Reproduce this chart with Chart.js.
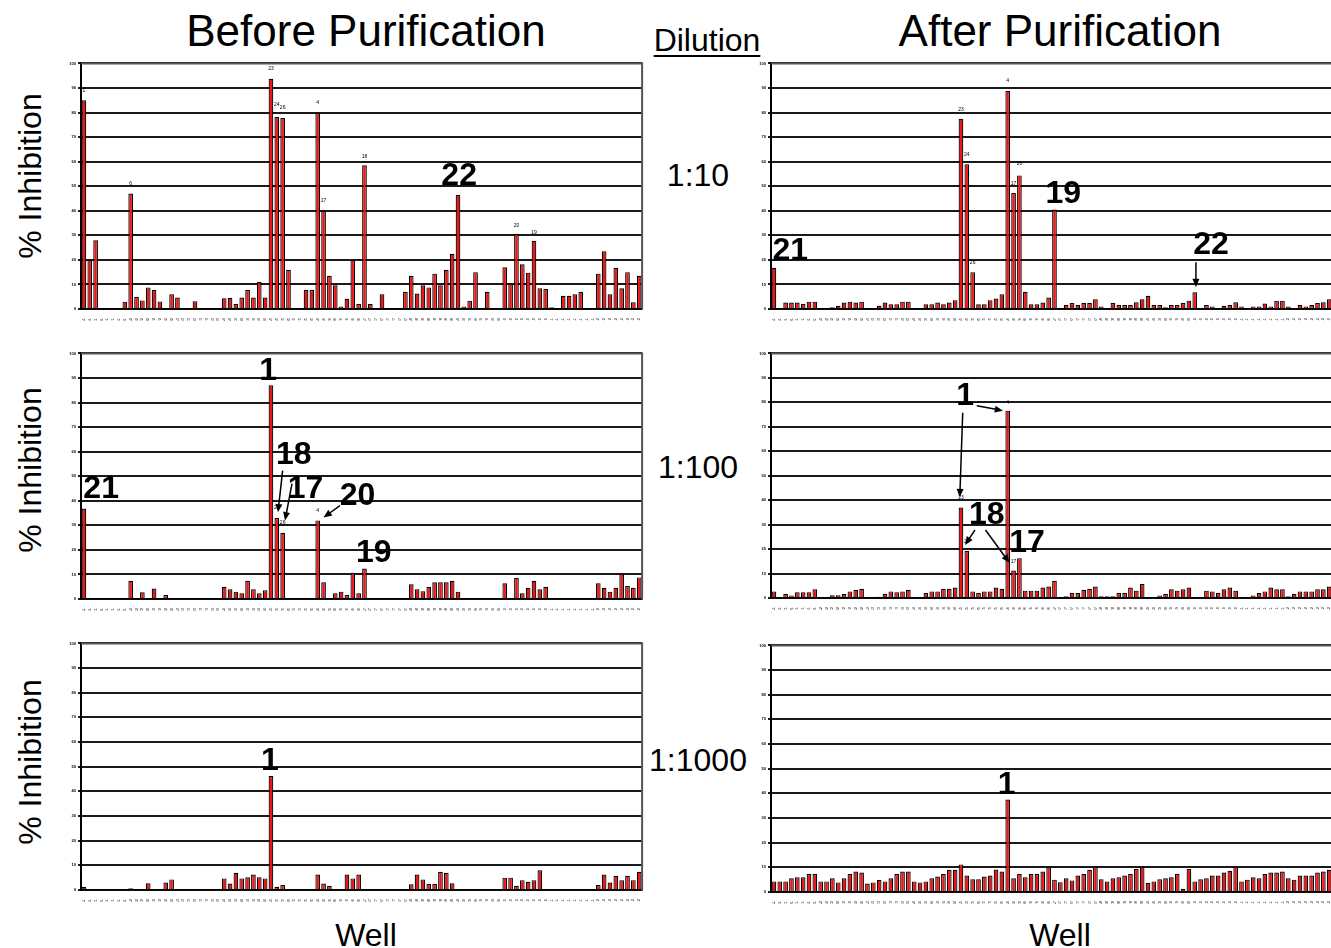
<!DOCTYPE html>
<html>
<head>
<meta charset="utf-8">
<script src="https://cdn.jsdelivr.net/npm/chart.js@4.4.1/dist/chart.umd.min.js"></script>
<style>
  body { margin: 0; width: 1331px; height: 948px; overflow: hidden; background: #fff; position: relative;
         font-family: "Liberation Sans", Arial, sans-serif; }
  canvas { position: absolute; }
  .txt { position: absolute; white-space: nowrap; color: #000; transform: translate(-50%, -50%); line-height: 1; }
  .rot { transform: translate(-50%, -50%) rotate(-90deg); }
</style>
</head>
<body>

<div class="txt" style="left:366px;top:31px;font-size:44px">Before Purification</div>
<div class="txt" style="left:1060px;top:31px;font-size:44px">After Purification</div>
<div class="txt" style="left:707px;top:40px;font-size:32px;text-decoration:underline;text-underline-offset:4px;text-decoration-thickness:2px">Dilution</div>
<div class="txt" style="left:698px;top:175px;font-size:32px">1:10</div>
<div class="txt" style="left:698px;top:467px;font-size:32px">1:100</div>
<div class="txt" style="left:698px;top:760px;font-size:32px">1:1000</div>
<div class="txt rot" style="left:30px;top:176px;font-size:32px">% Inhibition</div>
<div class="txt rot" style="left:30px;top:470px;font-size:32px">% Inhibition</div>
<div class="txt rot" style="left:30px;top:762px;font-size:32px">% Inhibition</div>
<div class="txt" style="left:366px;top:935px;font-size:32px">Well</div>
<div class="txt" style="left:1060px;top:935px;font-size:32px">Well</div>

<canvas id="c1" width="578" height="262" style="left:67px;top:59px"></canvas>
<canvas id="c2" width="578" height="262" style="left:757px;top:59px"></canvas>
<canvas id="c3" width="578" height="262" style="left:67px;top:349px"></canvas>
<canvas id="c4" width="578" height="261" style="left:757px;top:349px"></canvas>
<canvas id="c5" width="578" height="263" style="left:67px;top:639px"></canvas>
<canvas id="c6" width="578" height="263" style="left:757px;top:641px"></canvas>

<script>
// 96-well plate, wells read down each column
const plateRows = ["A", "B", "C", "D", "E", "F", "G", "H"];
const plateCols = [1, 2, 3, 4, 5, 6, 7, 8, 9, 10, 11, 12];
const wells = [];
plateCols.forEach(c => plateRows.forEach(r => wells.push(r + c)));

const yTicks = [0, 10, 20, 30, 40, 50, 60, 70, 80, 90, 100];

// % inhibition per well, before purification
const before10 = [85, 20, 28, 0, 0, 0, 0, 3, 47, 5, 3.5, 8.8, 7.7, 3.1, 0, 6,
  4.7, 0, 0, 3.2, 0, 0, 0, 0, 4.4, 4.6, 2, 4.7, 7.7, 4.7, 11, 4.7,
  93.7, 78.2, 77.8, 16, 0, 0, 7.7, 7.7, 79.8, 40, 13.5, 9.7, 1, 4.2, 20, 2,
  58.5, 2, 0, 6, 0, 0, 0, 7, 13.5, 6.3, 9.7, 8.8, 14.4, 9.7, 16, 22.5,
  46.4, 1, 3.4, 15, 0, 7, 0, 0, 17, 10.4, 30.6, 18.2, 14.8, 27.8, 8.4, 8.1,
  0.7, 0, 5.4, 5.4, 6, 7, 0, 0, 14.4, 23.5, 6, 16.8, 8.4, 15, 2.7, 13.5];
const before100 = [36.8, 0, 0, 0, 0, 0, 0, 0, 7.4, 0, 2.7, 0, 4.3, 0, 1.6, 0,
  0, 0, 0, 0, 0, 0, 0, 0, 5, 4, 3, 2.3, 7.4, 4, 2.3, 3.6,
  87, 33, 27, 0, 0, 0, 0, 0, 32, 6.8, 0, 2.3, 3, 1.6, 10.7, 2.3,
  12.4, 0, 0, 0, 0, 0, 0, 0, 6, 4, 3.2, 5, 6.8, 6.8, 6.8, 7.4,
  3, 0, 0, 0, 0, 0, 0, 0, 6.4, 0, 8.6, 2.3, 4.6, 7.4, 4, 5,
  0, 0, 0, 0, 0, 0, 0, 0, 6.4, 4.6, 3, 4.6, 10.4, 5.3, 4.6, 8.8];
const before1000 = [1.3, 0, 0, 0, 0, 0, 0, 0, 0.7, 0, 0, 2.7, 0, 0, 3, 4.3,
  0, 0, 0, 0, 0, 0, 0, 0, 4.7, 2.6, 7, 4.7, 5.2, 6.3, 5.2, 4.7,
  46.2, 1.3, 2, 0, 0, 0, 0, 0, 6.3, 2.6, 1.7, 0, 0, 6.3, 4.7, 6.3,
  0, 0, 0, 0, 0, 0, 0, 0, 2.3, 6.3, 4.3, 2.4, 2.4, 7.4, 7, 2.7,
  0, 0, 0, 0, 0, 0, 0, 0, 5, 5, 1.7, 4, 3.3, 4, 8, 0,
  0, 0, 0, 0, 0, 0, 0, 0, 2, 6.3, 3, 5.8, 4, 5.8, 4, 7.4];

// % inhibition per well, after purification
const after10 = [16.8, 0, 2.6, 2.6, 2.6, 2, 3, 3, 0, 0, 0.7, 1.3, 2.6, 3, 2.6, 3,
  0, 0, 1.3, 2.6, 1.9, 1.9, 3, 3, 0, 0, 1.9, 1.9, 2.6, 1.9, 2.6, 3.6,
  77.4, 58.9, 15, 1.9, 1.9, 3.6, 4.3, 6, 88.8, 47.2, 54.4, 7, 1.9, 1.9, 2.6, 4.7,
  40.5, 0.5, 1.6, 2.4, 1.6, 2.4, 2.4, 4, 1, 0, 2.4, 1.6, 1.6, 1.6, 2.7, 4,
  5.4, 1.6, 1.6, 0.7, 1.6, 1.6, 2.4, 3.4, 6.8, 0, 1.6, 1, 0.4, 1.3, 1.6, 2.7,
  1, 0.4, 1, 1, 2.2, 1, 3.4, 3.4, 1, 0.4, 1.6, 1, 1.6, 2.4, 2.7, 4];
const after100 = [2.7, 0, 1.6, 1, 2.3, 2.3, 2.3, 3.6, 0, 0, 1.1, 1.1, 1.6, 2.7, 3.4, 3.8,
  0, 0, 0.5, 1.6, 2.7, 2.3, 2.7, 3.4, 0.4, 0.4, 2, 2.7, 2.7, 3.8, 3.8, 4.3,
  37, 19.2, 2.7, 2, 2.7, 2.7, 4.3, 3.8, 76.6, 11.2, 16.3, 3, 3, 3, 4.3, 4.7,
  7, 0, 0.7, 2, 2, 3.4, 3.8, 4.7, 0.7, 0.7, 0.7, 2, 2, 4.3, 3, 5.7,
  0.4, 0.4, 1, 1.6, 3.6, 3, 3.6, 4.3, 0.4, 0, 3, 2.7, 2, 3.6, 4.3, 3,
  0.4, 0, 1, 2, 2.7, 4.3, 3.6, 3.6, 0.7, 1.6, 2.7, 2.7, 2.7, 3.6, 3.6, 4.7];
const after1000 = [4.3, 4.3, 4.3, 5.6, 6, 6, 7.3, 7.3, 4.3, 4.3, 5.6, 3.9, 5.6, 7.3, 8.3, 7.9,
  3.4, 3.9, 4.9, 4.3, 5.6, 7.3, 8.3, 8.3, 4.3, 3.9, 4.3, 5.6, 6.3, 7.3, 9, 9,
  11.2, 6.7, 5.2, 5.2, 6.3, 6.7, 9.1, 8.3, 37.5, 5.6, 7.3, 6, 7.3, 7.3, 8.3, 10,
  5, 4, 5.6, 4.7, 6.7, 7.3, 9, 10.3, 5.2, 4.3, 5.6, 6, 6.7, 7.3, 9.3, 10.3,
  3.6, 4.3, 5.2, 5.6, 6, 7.3, 1.3, 9.3, 4.3, 5.2, 5.6, 6.7, 6.7, 7.9, 8.6, 10.3,
  4.3, 5, 6, 5.6, 7.3, 7.9, 7.9, 8.3, 5.6, 5, 6.7, 6.7, 6.7, 7.9, 8.3, 9];

// compound numbers: [well index, value position, text]
const tags10b = [[0, 88, "1"], [8, 50, "6"], [32, 97, "23"], [33, 82, "24"], [34, 81, "26"], [40, 83, "4"],
  [41, 43, "17"], [48, 61, "18"], [74, 33, "20"], [77, 30, "19"]];
const tags10a = [[32, 80, "23"], [33, 62, "24"], [34, 18, "26"], [40, 92, "4"], [41, 50, "17"], [42, 58, "20"]];
const tags100b = [[33, 36, "24"], [34, 30, "26"], [40, 35, "4"]];
const tags100a = [[32, 40, "23"], [33, 22, "24"], [40, 79, "4"], [41, 14, "17"]];

// big call-outs: [well position, value position, text]
const notes10b = [[64.2, 54.2, "22"]];
const notes10a = [[2.8, 23.5, "21"], [49.5, 46.9, "19"], [74.8, 25.9, "22"]];
const notes100b = [[2.95, 44.6, "21"], [31.5, 92.8, "1"], [35.9, 58.4, "18"], [37.9, 44.6, "17"],
  [46.8, 41.8, "20"], [49.6, 18.6, "19"]];
const notes100a = [[32.7, 82.6, "1"], [36.4, 33.9, "18"], [43.3, 22.5, "17"]];
const notes1000b = [[31.8, 52.4, "1"]];
const notes1000a = [[39.8, 43.3, "1"]];

// arrows: [from well, from value, to well, to value]
const arrows10a = [[72.2, 19, 72.2, 8.9]];
const arrows100b = [[34.0, 52.3, 33.2, 35.3], [35.6, 47, 34.4, 32], [43.8, 38, 41, 33.2]];
const arrows100a = [[32.3, 75.7, 31.8, 41.2], [34.7, 78.6, 39.2, 76.6],
  [34.4, 27.8, 32.7, 21.7], [36.2, 27.8, 40.3, 14.4]];

const notesPlugin = {
  id: "notes",
  afterDatasetsDraw(chart, args, opts) {
    const ctx = chart.ctx;
    const a = chart.chartArea;
    const x = chart.scales.x, y = chart.scales.y;
    ctx.save();
    // frame on top and right
    ctx.strokeStyle = "#555";
    ctx.lineWidth = 2;
    ctx.beginPath();
    ctx.moveTo(a.left, a.top);
    ctx.lineTo(a.right, a.top);
    ctx.lineTo(a.right, a.bottom);
    ctx.stroke();

    ctx.fillStyle = "#000";
    ctx.textAlign = "center";
    ctx.textBaseline = "bottom";
    ctx.font = "5px 'Liberation Sans'";
    (opts.tags || []).forEach(t => ctx.fillText(t[2], x.getPixelForValue(t[0]), y.getPixelForValue(t[1])));

    ctx.strokeStyle = "#000";
    ctx.lineWidth = 1.5;
    (opts.arrows || []).forEach(r => {
      const x0 = x.getPixelForValue(r[0]), y0 = y.getPixelForValue(r[1]);
      const x1 = x.getPixelForValue(r[2]), y1 = y.getPixelForValue(r[3]);
      const ang = Math.atan2(y1 - y0, x1 - x0);
      const head = 9;
      ctx.beginPath();
      ctx.moveTo(x0, y0);
      ctx.lineTo(x1 - Math.cos(ang) * head * 0.8, y1 - Math.sin(ang) * head * 0.8);
      ctx.stroke();
      ctx.beginPath();
      ctx.moveTo(x1, y1);
      ctx.lineTo(x1 - head * Math.cos(ang - 0.4), y1 - head * Math.sin(ang - 0.4));
      ctx.lineTo(x1 - head * Math.cos(ang + 0.4), y1 - head * Math.sin(ang + 0.4));
      ctx.closePath();
      ctx.fill();
    });

    ctx.textBaseline = "middle";
    ctx.font = "bold 32px 'Liberation Sans'";
    (opts.labels || []).forEach(t => ctx.fillText(t[2], x.getPixelForValue(t[0]), y.getPixelForValue(t[1])));
    ctx.restore();
  }
};

function makePanel(id, values, labels, tags, arrows) {
  return new Chart(document.getElementById(id), {
    type: "bar",
    data: {
      labels: wells,
      datasets: [{
        data: values,
        backgroundColor: "#f01414",
        borderColor: "#000",
        borderWidth: 1.2,
        barPercentage: 0.8,
        categoryPercentage: 1
      }]
    },
    options: {
      responsive: false,
      animation: false,
      devicePixelRatio: 1,
      layout: { padding: { top: 3, right: 2, left: 0, bottom: 0 } },
      plugins: {
        legend: { display: false },
        tooltip: { enabled: false },
        notes: { labels: labels, tags: tags, arrows: arrows }
      },
      scales: {
        x: {
          grid: { display: false },
          border: { display: true, color: "#000", width: 1.5 },
          ticks: { autoSkip: false, maxRotation: 90, minRotation: 90, font: { size: 4 }, color: "#222", padding: 1 },
          afterFit: s => { s.height = 12; }
        },
        y: {
          min: 0,
          max: 100,
          afterBuildTicks: s => { s.ticks = yTicks.map(v => ({ value: v })); },
          grid: { color: "#1a1a1a", lineWidth: 2, tickLength: 3 },
          border: { display: true, color: "#000", width: 2 },
          ticks: { font: { size: 4, weight: "bold" }, color: "#000", padding: 2 },
          afterFit: s => { s.width = 14; }
        }
      }
    },
    plugins: [notesPlugin]
  });
}

makePanel("c1", before10, notes10b, tags10b, []);
makePanel("c2", after10, notes10a, tags10a, arrows10a);
makePanel("c3", before100, notes100b, tags100b, arrows100b);
makePanel("c4", after100, notes100a, tags100a, arrows100a);
makePanel("c5", before1000, notes1000b, [], []);
makePanel("c6", after1000, notes1000a, [], []);
</script>
</body>
</html>
